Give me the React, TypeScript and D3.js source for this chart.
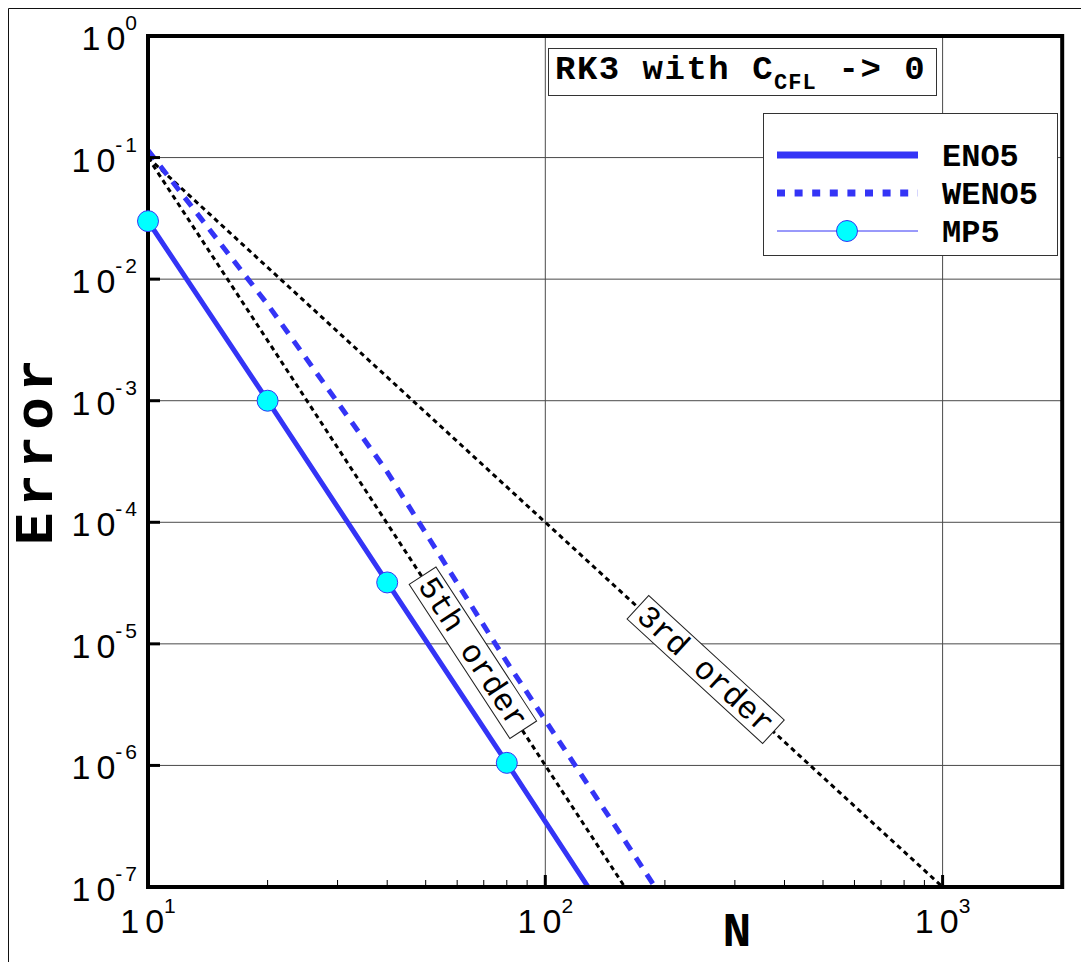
import React from "react";
import * as d3 from "d3";

// Grid resolution and errors for each scheme
const gridN = [10, 20, 40, 80, 160, 320];
const eno5 = [3.0e-2, 1.0e-3, 3.2e-5, 1.05e-6, 3.3e-8, 1.0e-9];
const weno5 = [1.15e-1, 6.2e-3, 2.6e-4, 7.1e-6, 2.3e-7, 7.0e-9];
const mp5N = [10, 20, 40, 80];
const mp5 = [3.0e-2, 1.0e-3, 3.2e-5, 1.05e-6];

// Reference slopes
const ref5N = [10, 200];
const ref5 = [1e-1, 3.125e-8];
const ref3N = [10, 1000];
const ref3 = [1e-1, 1e-7];

const xMajor = [10, 100, 1000];
const xExp = ["1", "2", "3"];
const xMinor = [20, 30, 40, 50, 60, 70, 80, 90, 200, 300, 400, 500, 600, 700, 800, 900];
const yMajor = [1, 1e-1, 1e-2, 1e-3, 1e-4, 1e-5, 1e-6, 1e-7];
const yExp = ["0", "-1", "-2", "-3", "-4", "-5", "-6", "-7"];

const W = 1081;
const H = 962;
const L = 148;
const T = 36;
const B = 887;
const decadeX = 397.3;

const BLUE = "#3434f6";
const MONO = "'Liberation Mono', 'DejaVu Sans Mono', monospace";
const SANS = "'Liberation Sans', Arial, sans-serif";

function PowerLabel({ x, y, exp, anchor }: { x: number; y: number; exp: string; anchor: string }) {
  return (
    <text x={x} y={y} textAnchor={anchor} fontFamily={SANS} fontSize={34} fill="black">
      <tspan>1</tspan>
      <tspan dx={6}>0</tspan>
      <tspan dx={8} dy={-20} fontSize={21}>
        {exp.split("").map((c, i) => (
          <tspan key={i} dx={i === 0 ? 0 : 3}>
            {c}
          </tspan>
        ))}
      </tspan>
    </text>
  );
}

export default function App() {
  const x = d3.scaleLog().domain([10, 2000]).range([L, L + Math.log10(200) * decadeX]);
  const y = d3.scaleLog().domain([1e-7, 1]).range([B, T]);
  const R = x(2000);

  const line = d3
    .line<[number, number]>()
    .x((d) => x(d[0]))
    .y((d) => y(d[1]));
  const pts = (ns: number[], vs: number[]) => ns.map((n, i) => [n, vs[i]] as [number, number]);

  const angleOf = (ns: number[], vs: number[]) =>
    (Math.atan2(y(vs[1]) - y(vs[0]), x(ns[1]) - x(ns[0])) * 180) / Math.PI;

  const lab5N = 66.5;
  const lab5E = 0.1 * Math.pow(lab5N / 10, -5);
  const lab3N = 253.3;
  const lab3E = 0.1 * Math.pow(lab3N / 10, -3);

  const orderLabel = (cx: number, cy: number, ang: number, text: string) => (
    <g transform={`translate(${cx},${cy}) rotate(${ang})`}>
      <rect x={-92} y={-16} width={184} height={32} fill="white" stroke="#222" strokeWidth={1} />
      <text x={0} y={10} textAnchor="middle" fontFamily={MONO} fontSize={32} fill="black">
        {text}
      </text>
    </g>
  );

  return (
    <svg width={W} height={H} style={{ position: "absolute", left: 0, top: 0, background: "white" }}>
      <defs>
        <clipPath id="plotArea">
          <rect x={L} y={T} width={R - L} height={B - T} />
        </clipPath>
      </defs>
      <rect x={0} y={0} width={W} height={H} fill="white" />
      {/* outer frame */}
      <path d={`M8.5,${H} V8.5 H${W}`} fill="none" stroke="#111" strokeWidth={1} />

      {/* grid */}
      {yMajor.slice(1, -1).map((v) => (
        <line key={`gy${v}`} x1={L} x2={R} y1={y(v)} y2={y(v)} stroke="#4a4a4a" strokeWidth={1} />
      ))}
      {xMajor.slice(1).map((v) => (
        <line key={`gx${v}`} x1={x(v)} x2={x(v)} y1={T} y2={B} stroke="#4a4a4a" strokeWidth={1} />
      ))}

      <g clipPath="url(#plotArea)">
        <path d={line(pts(ref3N, ref3)) || ""} fill="none" stroke="black" strokeWidth={3} strokeDasharray="5,4" />
        <path d={line(pts(ref5N, ref5)) || ""} fill="none" stroke="black" strokeWidth={3} strokeDasharray="5,4" />
        <path d={line(pts(gridN, weno5)) || ""} fill="none" stroke={BLUE} strokeWidth={5} strokeDasharray="11,9" />
        <path d={line(pts(gridN, eno5)) || ""} fill="none" stroke={BLUE} strokeWidth={5} />
        <path d={line(pts(mp5N, mp5)) || ""} fill="none" stroke={BLUE} strokeWidth={1} />
      </g>

      {orderLabel(x(lab5N) - 2, y(lab5E) - 5, angleOf(ref5N, ref5), "5th order")}
      {orderLabel(x(lab3N), y(lab3E), angleOf(ref3N, ref3), "3rd order")}

      {/* frame */}
      <rect x={L} y={T} width={R - L} height={B - T} fill="none" stroke="black" strokeWidth={4} />

      {/* ticks */}
      {yMajor.map((v) => (
        <line key={`ty${v}`} x1={L} x2={L + 12} y1={y(v)} y2={y(v)} stroke="black" strokeWidth={3} />
      ))}
      {xMajor.map((v) => (
        <line key={`tx${v}`} x1={x(v)} x2={x(v)} y1={B} y2={B - 12} stroke="black" strokeWidth={3} />
      ))}
      {xMinor.map((v) => (
        <line key={`tm${v}`} x1={x(v)} x2={x(v)} y1={B} y2={B - 7} stroke="black" strokeWidth={1} />
      ))}

      {/* tick labels */}
      {yMajor.map((v, i) => (
        <PowerLabel key={`ly${v}`} x={137} y={y(v) + 14} exp={yExp[i]} anchor="end" />
      ))}
      {xMajor.map((v, i) => (
        <PowerLabel key={`lx${v}`} x={x(v)} y={933} exp={xExp[i]} anchor="middle" />
      ))}

      {/* markers */}
      {mp5N.map((n, i) => (
        <circle key={`m${n}`} cx={x(n)} cy={y(mp5[i])} r={10.5} fill="#00ffff" stroke={BLUE} strokeWidth={1} />
      ))}

      {/* axis titles */}
      <text x={737} y={946} textAnchor="middle" fontFamily={MONO} fontWeight="bold" fontSize={48} fill="black">
        N
      </text>
      <text
        transform={`translate(52,449) rotate(-90)`}
        textAnchor="middle"
        fontFamily={MONO}
        fontWeight="bold"
        fontSize={54}
        letterSpacing={6}
        fill="black"
      >
        Error
      </text>

      {/* title box */}
      <rect x={548.5} y={48.5} width={388} height={47} fill="white" stroke="#333" strokeWidth={1} />
      <text x={555} y={79} fontFamily={MONO} fontWeight="bold" fontSize={34} letterSpacing={1.5} fill="black">
        <tspan>RK3 with C</tspan>
        <tspan dy={10} fontSize={22} letterSpacing={1}>
          CFL
        </tspan>
        <tspan dy={-10}>{" -> 0"}</tspan>
      </text>

      {/* legend */}
      <rect x={763.5} y={113.5} width={294} height={142} fill="white" stroke="#333" strokeWidth={1} />
      <line x1={777} x2={918} y1={155} y2={155} stroke={BLUE} strokeWidth={7} />
      <line x1={777} x2={918} y1={193} y2={193} stroke={BLUE} strokeWidth={7} strokeDasharray="8,9.6" />
      <line x1={777} x2={918} y1={231} y2={231} stroke={BLUE} strokeWidth={1} />
      <circle cx={847} cy={231} r={10.5} fill="#00ffff" stroke={BLUE} strokeWidth={1} />
      {["ENO5", "WENO5", "MP5"].map((s, i) => (
        <text key={s} x={942} y={166 + i * 38} fontFamily={MONO} fontWeight="bold" fontSize={32} fill="black">
          {s}
        </text>
      ))}
    </svg>
  );
}
